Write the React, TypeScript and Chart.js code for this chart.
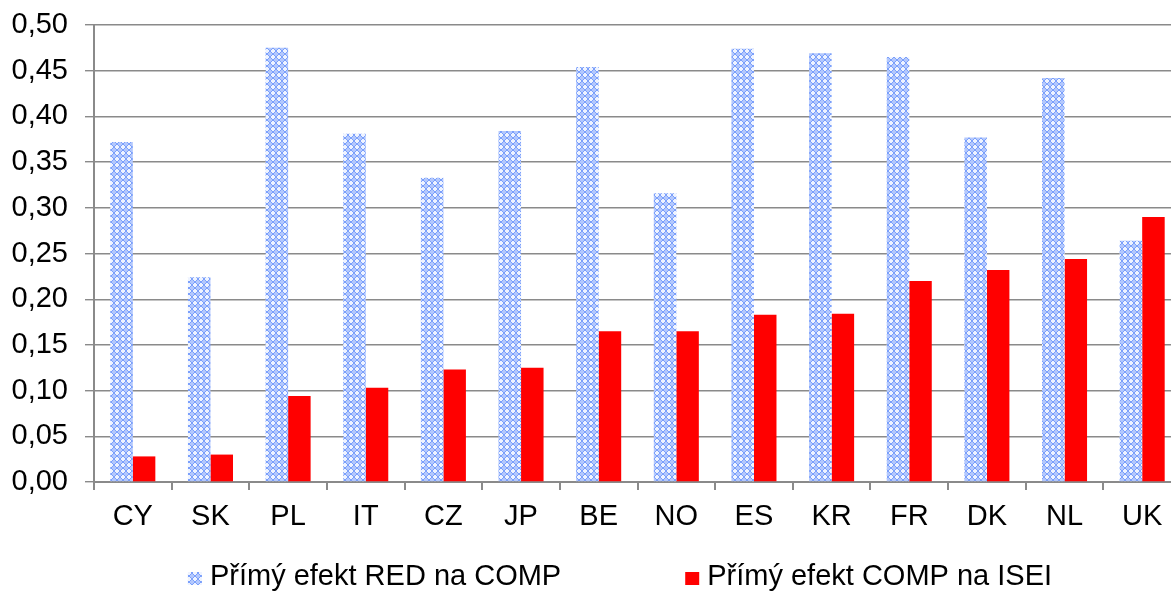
import React, { useEffect, useRef } from "react";
import { Chart, registerables } from "chart.js";

Chart.register(...registerables);

const categories = ["CY", "SK", "PL", "IT", "CZ", "JP", "BE", "NO", "ES", "KR", "FR", "DK", "NL", "UK"];
const seriesRedComp = [0.372, 0.224, 0.475, 0.381, 0.333, 0.384, 0.454, 0.316, 0.474, 0.469, 0.465, 0.377, 0.442, 0.264];
const seriesCompIsei = [0.028, 0.030, 0.094, 0.103, 0.123, 0.125, 0.165, 0.165, 0.183, 0.184, 0.220, 0.232, 0.244, 0.290];
const seriesLabels = ["Přímý efekt RED na COMP", "Přímý efekt COMP na ISEI"];
const yTicks = { min: 0, max: 0.5, step: 0.05 };

const FONT = '"Liberation Sans", Arial, sans-serif';
const GRID = "#8a8a8a";

function makePattern(): CanvasPattern | string {
  const c = document.createElement("canvas");
  c.width = 6;
  c.height = 6;
  const g = c.getContext("2d");
  if (!g) return "#9db7fb";
  const map = [
    "oo##oo",
    "o#..#o",
    "#....#",
    "#....#",
    "o#..#o",
    "oo##oo",
  ];
  for (let y = 0; y < 6; y++) {
    for (let x = 0; x < 6; x++) {
      const ch = map[y][x];
      g.fillStyle = ch === "#" ? "#7a9ffb" : ch === "o" ? "#b3c8fd" : "#eef3ff";
      g.fillRect(x, y, 1, 1);
    }
  }
  const p = g.createPattern(c, "repeat");
  return p || "#9db7fb";
}

const legendPlugin = {
  id: "customLegend",
  afterDraw(chart: any) {
    const ctx = chart.ctx as CanvasRenderingContext2D;
    ctx.save();
    ctx.font = `29px ${FONT}`;
    ctx.textBaseline = "alphabetic";
    const datasets = chart.data.datasets;
    const box = 14;
    const gapBoxText = 8;
    const gapItems = 124;
    const widths = datasets.map((d: any) => box + gapBoxText + ctx.measureText(d.label).width);
    const total = widths.reduce((a: number, b: number) => a + b, 0) + gapItems * (datasets.length - 1);
    let x = 620 - total / 2;
    const baseline = 585;
    datasets.forEach((d: any, i: number) => {
      ctx.fillStyle = d.backgroundColor;
      ctx.fillRect(x, baseline - 13, box, 13);
      ctx.fillStyle = "#000";
      ctx.fillText(d.label, x + box + gapBoxText, baseline);
      x += widths[i] + gapItems;
    });
    ctx.restore();
  },
};

export default function App() {
  const ref = useRef<HTMLCanvasElement | null>(null);

  useEffect(() => {
    document.body.style.margin = "0";
    const canvas = ref.current;
    if (!canvas) return;
    const pattern = makePattern();
    const chart = new Chart(canvas, {
      type: "bar",
      data: {
        labels: categories,
        datasets: [
          { label: seriesLabels[0], data: seriesRedComp, backgroundColor: pattern as any, borderWidth: 0 },
          { label: seriesLabels[1], data: seriesCompIsei, backgroundColor: "#ff0000", borderWidth: 0 },
        ],
      },
      options: {
        animation: false,
        responsive: true,
        maintainAspectRatio: false,
        layout: { padding: { top: 25, right: 0, bottom: 49, left: 0 } },
        datasets: { bar: { categoryPercentage: 0.58, barPercentage: 1.0 } },
        plugins: { legend: { display: false }, tooltip: { enabled: false } },
        scales: {
          x: {
            offset: true,
            grid: { display: true, drawOnChartArea: false, drawTicks: true, tickLength: 8, color: GRID, lineWidth: 2, offset: true },
            border: { display: true, color: GRID, width: 2 },
            ticks: { color: "#000", font: { family: FONT, size: 29 }, padding: 10, maxRotation: 0 },
            afterFit: (s: any) => { s.height = 60; s.paddingLeft = 0; s.paddingRight = 0; },
          },
          y: {
            min: yTicks.min,
            max: yTicks.max,
            grid: { color: GRID, lineWidth: 1.4, drawTicks: true, tickLength: 9 },
            border: { display: true, color: GRID, width: 2 },
            ticks: {
              stepSize: yTicks.step,
              color: "#000",
              font: { family: FONT, size: 29 },
              padding: 17,
              callback: (v: any) => Number(v).toFixed(2).replace(".", ","),
            },
            afterFit: (s: any) => { s.width = 94; s.paddingTop = 0; s.paddingBottom = 0; },
          },
        },
      },
      plugins: [legendPlugin],
    });
    return () => chart.destroy();
  }, []);

  return (
    <div style={{ position: "fixed", left: 0, top: 0, width: 1171, height: 591, overflow: "hidden", background: "#fff" }}>
      <div style={{ position: "relative", width: 1181, height: 591 }}>
        <canvas ref={ref} />
      </div>
    </div>
  );
}
